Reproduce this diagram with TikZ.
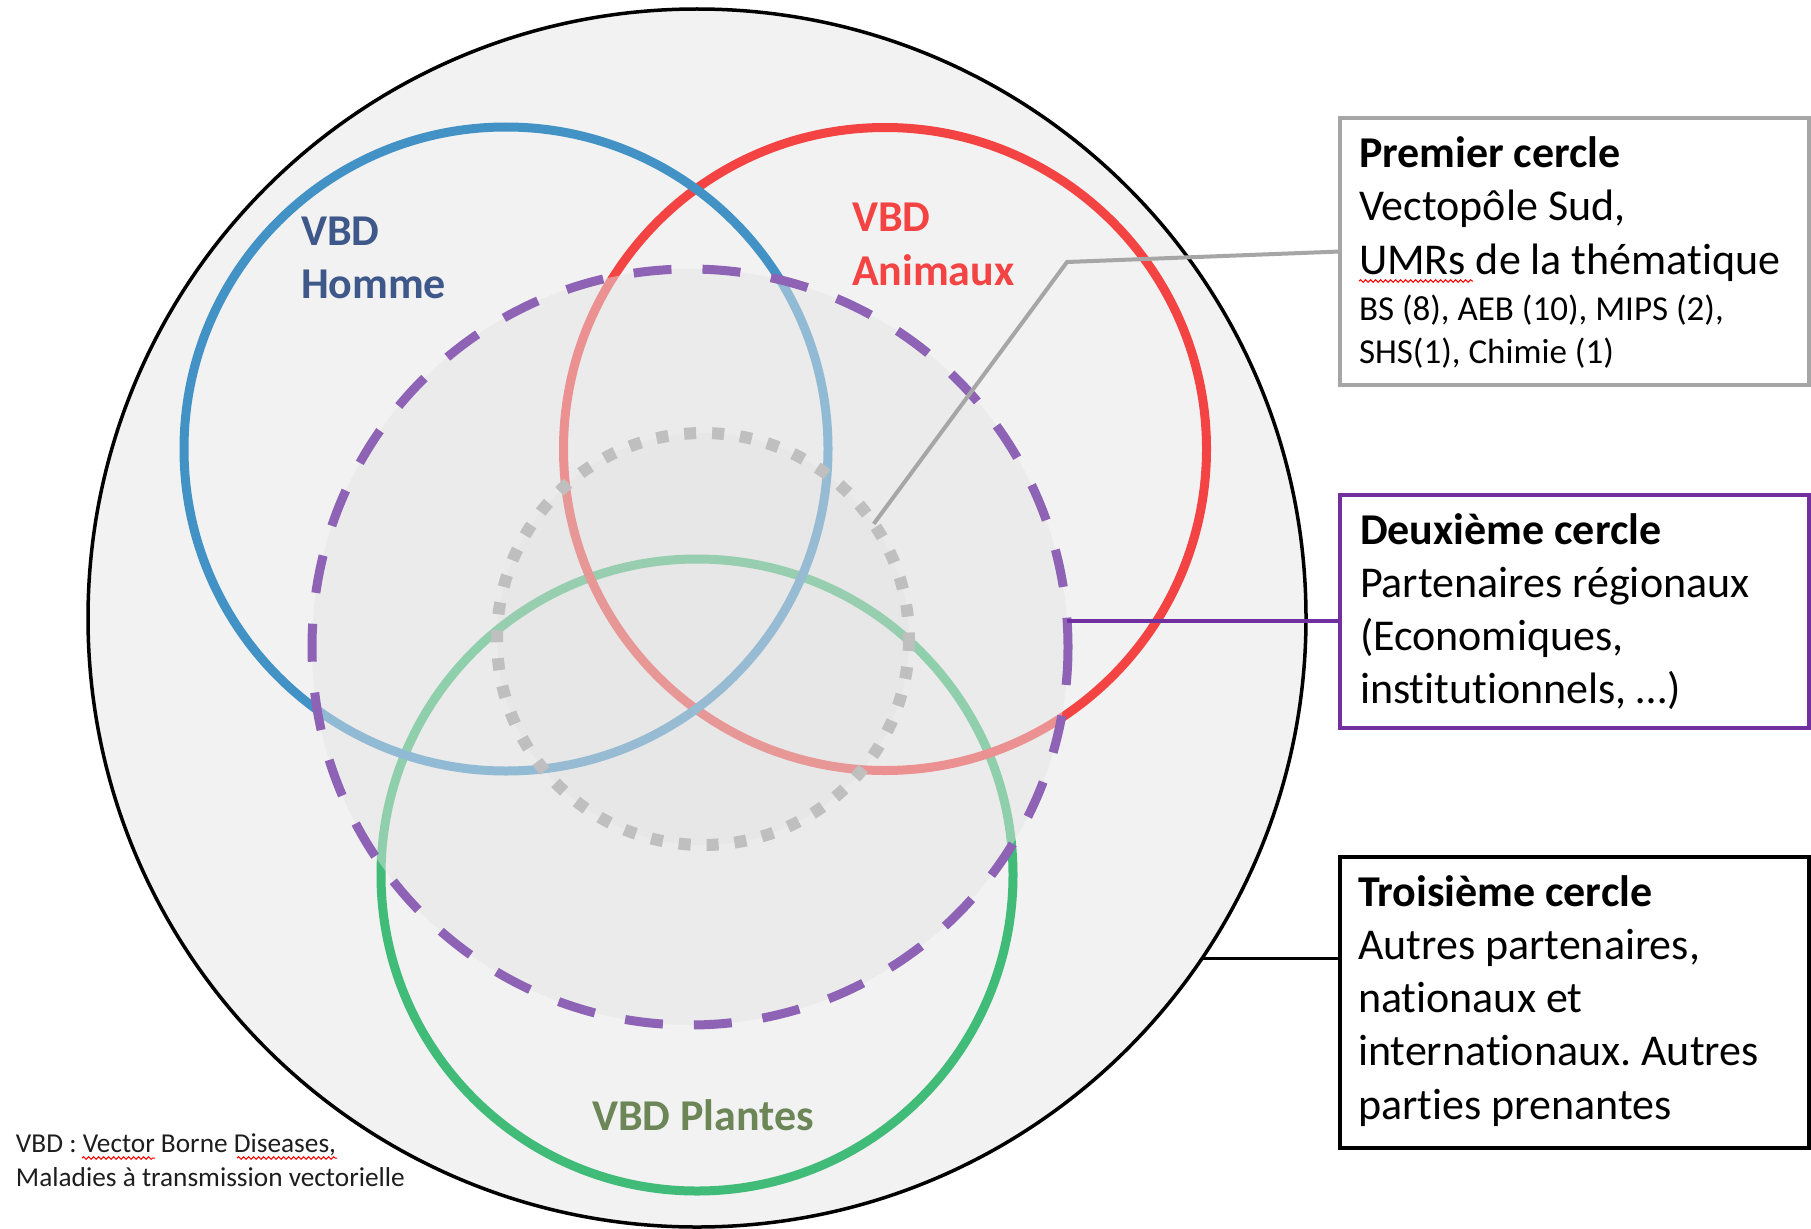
\documentclass[tikz,border=0pt]{standalone}
\usepackage{fontspec}
\setmainfont{Carlito}[Ligatures=NoCommon]
\frenchspacing
\usetikzlibrary{decorations.pathmorphing}
\definecolor{bigfill}{HTML}{F2F2F2}
\definecolor{overlaygray}{RGB}{228,228,228}
\definecolor{vbdblue}{RGB}{66,146,198}
\definecolor{vbdred}{RGB}{244,67,67}
\definecolor{vbdgreen}{RGB}{64,188,120}
\definecolor{dashpurple}{RGB}{142,98,180}
\definecolor{boxpurple}{HTML}{7030A0}
\definecolor{dotgray}{RGB}{191,191,191}
\definecolor{linegray}{RGB}{166,166,166}
\definecolor{hommetext}{RGB}{62,88,138}
\definecolor{plantestext}{RGB}{108,134,88}
\definecolor{notetext}{RGB}{30,30,30}
\begin{document}
\begin{tikzpicture}[x=1pt,y=-1pt,
  ring/.style={circle, inner sep=0pt, outer sep=0pt},
  venn/.style={ring, line width=9pt},
  legendbox/.style={rectangle, fill=white, line width=4.5pt, anchor=north west, inner sep=0pt, outer sep=0pt, minimum width=469pt},
  txt/.style={anchor=base west, inner sep=0pt, outer sep=0pt},
  bigtxt/.style={txt, font=\fontsize{44}{53}\selectfont},
  boldtxt/.style={txt, font=\bfseries\fontsize{44}{53}\selectfont},
  smalltxt/.style={txt, font=\fontsize{35}{43}\selectfont},
  notetxt/.style={txt, font=\fontsize{27.3}{33}\selectfont, text=notetext},
  squiggle/.style={red, line width=1pt, decorate, decoration={snake, amplitude=1.3pt, segment length=5pt}}
]
\useasboundingbox (0,0) rectangle (1811,1228);
\fill[white] (0,0) rectangle (1811,1228);

% outer circle
\node[ring, draw=black, line width=3.5pt, fill=bigfill, minimum size=1218pt] (big) at (697,618) {};

% Venn circles
\node[venn, draw=vbdgreen, minimum size=632pt] (plantes) at (697,875) {};
\node[venn, draw=vbdred, minimum size=643pt] (animaux) at (885,449) {};
\node[venn, draw=vbdblue, minimum size=644pt] (homme) at (506,449) {};

% second circle (dashed purple, translucent)
\node[ring, fill=overlaygray, fill opacity=0.49, minimum size=756pt] (second) at (690,647) {};
\draw[dashpurple, line width=9pt, dash pattern=on 38pt off 31pt] (690,647) circle[radius=378];

% first circle (dotted grey)
\node[ring, fill=black!20, fill opacity=0.1, minimum size=412pt] (first) at (703,639) {};
\draw[dotgray, line width=12pt, dash pattern=on 12pt off 16pt] (703,639) circle[radius=206];

% labels
\node[boldtxt, text=hommetext] (hommeA) at (301,245) {VBD};
\node[boldtxt, text=hommetext] (hommeB) at (301,298) {Homme};
\node[boldtxt, text=vbdred] (animA) at (852,231) {VBD};
\node[boldtxt, text=vbdred] (animB) at (852,285) {Animaux};
\node[boldtxt, text=plantestext] (plantesL) at (592,1130) {VBD Plantes};

% legend boxes
\node[legendbox, draw=linegray, minimum height=267pt] (box1) at (1340,118) {};
\node[legendbox, draw=boxpurple, line width=4pt, minimum height=233pt] (box2) at (1340,495) {};
\node[legendbox, draw=black, line width=4pt, minimum height=291pt] (box3) at (1340,857) {};

% connectors
\coordinate (bend) at (1067,262);
\draw[linegray, line width=4pt] (box1.west) -- (bend) -- (first.34);
\draw[boxpurple, line width=4pt] (second.4) -- (second.4 -| box2.west);
\draw[black, line width=3.5pt] (big.-34) -- (big.-34 -| box3.west);

% box 1 text
\node[boldtxt] (b1l1) at (1359,167) {Premier cercle};
\node[bigtxt] (b1l2) at (1359,220) {Vectopôle Sud,};
\node[bigtxt] (b1l3) at (1359,274) {UMRs de la thématique};
\node[smalltxt] (b1l4) at (1359,320) {BS (8), AEB (10), MIPS (2),};
\node[smalltxt] (b1l5) at (1359,363) {SHS(1), Chimie (1)};
\draw[squiggle] (1359,281) -- (1473,281);

% box 2 text
\node[boldtxt] (b2l1) at (1360,544) {Deuxième cercle};
\node[bigtxt] (b2l2) at (1360,597) {Partenaires régionaux};
\node[bigtxt] (b2l3) at (1360,650) {(Economiques,};
\node[bigtxt] (b2l4) at (1360,703) {institutionnels, …)};

% box 3 text
\node[boldtxt] (b3l1) at (1358,906) {Troisième cercle};
\node[bigtxt] (b3l2) at (1358,959) {Autres partenaires,};
\node[bigtxt] (b3l3) at (1358,1012) {nationaux et};
\node[bigtxt] (b3l4) at (1358,1065) {internationaux. Autres};
\node[bigtxt] (b3l5) at (1358,1119) {parties prenantes};

% footnote
\node[notetxt] (note1) at (16,1152) {VBD : Vector Borne Diseases,};
\node[notetxt] (note2) at (16,1186) {Maladies à transmission vectorielle};
\draw[squiggle] (82,1158) -- (155,1158);
\draw[squiggle] (237,1158) -- (337,1158);
\end{tikzpicture}
\end{document}
